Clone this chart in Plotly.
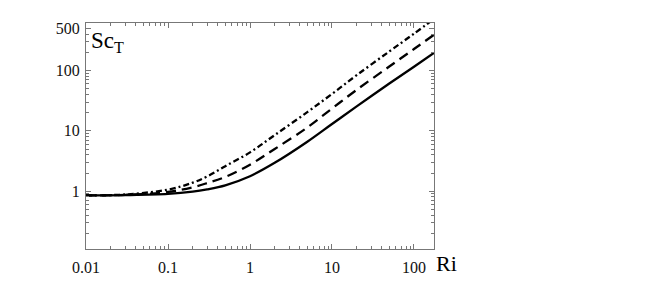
import plotly.graph_objects as go

# Richardson number samples and the three Sc_T curves
ri = [0.01, 0.03, 0.1, 0.2, 0.3, 0.5, 1, 2, 5, 10, 20, 50, 100, 175]
sc_solid = [0.85, 0.86, 0.90, 0.98, 1.07, 1.25, 1.77, 2.95, 6.6, 13.0, 25.5, 61, 116, 196]
sc_dash = [0.85, 0.87, 0.97, 1.16, 1.36, 1.72, 2.75, 5.0, 11.4, 23.5, 48, 117, 228, 392]
sc_dashdot = [0.85, 0.88, 1.06, 1.38, 1.75, 2.6, 4.4, 8.5, 20.5, 41, 84, 208, 410, 720]

x_ticks = [0.01, 0.1, 1, 10, 100]
x_labels = ["0.01", "0.1", "1", "10", "100"]
y_ticks = [1, 10, 100, 500]
y_labels = ["1", "10", "100", "500"]

x_minor = [m * 10 ** e for e in range(-2, 3) for m in range(2, 10)]
y_minor = [m * 10 ** e for e in range(-1, 3) for m in range(2, 10) if m * 10 ** e != 500]

fig = go.Figure()
fig.add_trace(go.Scatter(x=ri, y=sc_solid, mode="lines", line_shape="spline",
                         line=dict(color="black", width=2.3)))
fig.add_trace(go.Scatter(x=ri, y=sc_dash, mode="lines", line_shape="spline",
                         line=dict(color="black", width=2.3, dash="10px,6px")))
fig.add_trace(go.Scatter(x=ri, y=sc_dashdot, mode="lines", line_shape="spline",
                         line=dict(color="black", width=2.3, dash="6px,3px,2px,3px")))

axis_style = dict(type="log", showgrid=False, zeroline=False, showline=True,
                  linecolor="#777", linewidth=1, mirror="allticks",
                  ticks="inside", ticklen=5, tickcolor="#777", tickwidth=1,
                  tickfont=dict(family="Liberation Serif", size=16, color="#111"))

fig.update_xaxes(axis_style, range=[-2, 2.244], tickvals=x_ticks, ticktext=x_labels,
                 ticklabelstandoff=4,
                 minor=dict(tickvals=x_minor, ticks="inside", ticklen=3,
                            tickcolor="#777", showgrid=False))
fig.update_yaxes(axis_style, range=[-0.96, 2.79], tickvals=y_ticks, ticktext=y_labels,
                 ticklabelstandoff=2,
                 minor=dict(tickvals=y_minor, ticks="inside", ticklen=3,
                            tickcolor="#777", showgrid=False))

fig.add_annotation(text="Sc<sub>T</sub>", xref="paper", yref="paper", x=0.01, y=0.985,
                   xanchor="left", yanchor="top", showarrow=False,
                   font=dict(family="Liberation Serif", size=23, color="black"))
fig.add_annotation(text="Ri", xref="paper", yref="paper", x=1.0, y=0.0,
                   xanchor="left", yanchor="top", showarrow=False,
                   font=dict(family="Liberation Serif", size=22, color="black"))

# the page body adds an 8px margin, so the figure is shrunk by that much
fig.update_layout(width=646, height=280, showlegend=False,
                  margin=dict(l=78, r=220, t=13, b=33),
                  paper_bgcolor="white", plot_bgcolor="white")

fig.write_html("out.html")
